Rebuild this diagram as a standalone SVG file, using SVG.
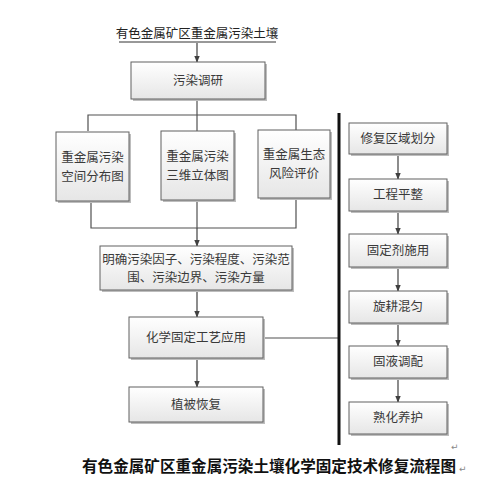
<svg xmlns="http://www.w3.org/2000/svg" width="484" height="487" viewBox="0 0 484 487">
<defs>
<linearGradient id="g" x1="0" y1="0" x2="0" y2="1">
<stop offset="0" stop-color="#ffffff"/>
<stop offset="1" stop-color="#e6e6e6"/>
</linearGradient>
<marker id="a" viewBox="0 0 10 10" refX="9" refY="5" markerWidth="7" markerHeight="7" orient="auto" markerUnits="userSpaceOnUse">
<path d="M0,1 L10,5 L0,9 Z" fill="#404040"/>
</marker>
<style>
.bx{fill:url(#g);stroke:#606060;stroke-width:1}
.sh{fill:#bdbdbd}
.t{font-family:"Noto Sans CJK SC","Liberation Sans",sans-serif;font-size:12.5px;fill:#3a3a3a;text-anchor:middle}
.c{fill:none;stroke:#505050;stroke-width:1.2}
.ar{fill:none;stroke:#404040;stroke-width:1.2;marker-end:url(#a)}
</style>
</defs>
<rect width="484" height="487" fill="#fff"/>

<g id="title">
<text class="t" x="197" y="38" style="fill:#222">有色金属矿区重金属污染土壤</text>
<line x1="119" y1="42" x2="276" y2="42" stroke="#333" stroke-width="1"/>
</g>

<g id="connectors">
<line class="ar" x1="197" y1="43" x2="197" y2="62"/>
<polyline class="c" points="197,99 197,115"/>
<polyline class="c" points="88,131 88,115 296,115 296,130"/>
<line class="c" x1="197" y1="115" x2="197" y2="131"/>
<polyline class="c" points="91,201 91,228 296,228 296,198"/>
<line class="c" x1="197" y1="200" x2="197" y2="228"/>
<line class="ar" x1="197" y1="228" x2="197" y2="246"/>
<line class="ar" x1="197" y1="290" x2="197" y2="317"/>
<line class="ar" x1="197" y1="358" x2="197" y2="387"/>
<line class="c" x1="263" y1="338" x2="339" y2="338"/>
<line x1="339" y1="113" x2="339" y2="445" stroke="#111" stroke-width="3"/>
<line class="ar" x1="398" y1="154" x2="398" y2="179"/>
<line class="ar" x1="398" y1="211" x2="398" y2="234"/>
<line class="ar" x1="398" y1="267" x2="398" y2="291"/>
<line class="ar" x1="398" y1="323" x2="398" y2="346"/>
<line class="ar" x1="398" y1="378" x2="398" y2="402"/>
</g>

<g id="n1"><rect class="sh" x="133" y="64" width="134" height="37"/><rect class="bx" x="131" y="62" width="134" height="37"/><text class="t" x="198" y="85">污染调研</text></g>

<g id="n2"><rect class="sh" x="58" y="134" width="73" height="69"/><rect class="bx" x="56" y="132" width="73" height="69"/><text class="t" x="92.5" y="162">重金属污染</text><text class="t" x="92.5" y="181">空间分布图</text></g>
<g id="n3"><rect class="sh" x="163" y="133" width="73" height="69"/><rect class="bx" x="161" y="131" width="73" height="69"/><text class="t" x="197.5" y="161">重金属污染</text><text class="t" x="197.5" y="180">三维立体图</text></g>
<g id="n4"><rect class="sh" x="260" y="132" width="72" height="68"/><rect class="bx" x="258" y="130" width="72" height="68"/><text class="t" x="294" y="159">重金属生态</text><text class="t" x="294" y="178">风险评价</text></g>

<g id="n5"><rect class="sh" x="102" y="248" width="192" height="44"/><rect class="bx" x="100" y="246" width="192" height="44"/><text class="t" x="196" y="264">明确污染因子、污染程度、污染范</text><text class="t" x="196" y="282">围、污染边界、污染方量</text></g>

<g id="n6"><rect class="sh" x="131" y="319" width="134" height="41"/><rect class="bx" x="129" y="317" width="134" height="41"/><text class="t" x="196" y="342">化学固定工艺应用</text></g>
<g id="n7"><rect class="sh" x="131" y="389" width="134" height="35"/><rect class="bx" x="129" y="387" width="134" height="35"/><text class="t" x="196" y="409">植被恢复</text></g>

<g id="r1"><rect class="sh" x="351" y="125" width="98" height="31"/><rect class="bx" x="349" y="123" width="98" height="31"/><text class="t" x="398" y="143">修复区域划分</text></g>
<g id="r2"><rect class="sh" x="351" y="181" width="98" height="32"/><rect class="bx" x="349" y="179" width="98" height="32"/><text class="t" x="398" y="199">工程平整</text></g>
<g id="r3"><rect class="sh" x="351" y="236" width="98" height="33"/><rect class="bx" x="349" y="234" width="98" height="33"/><text class="t" x="398" y="255">固定剂施用</text></g>
<g id="r4"><rect class="sh" x="351" y="293" width="98" height="32"/><rect class="bx" x="349" y="291" width="98" height="32"/><text class="t" x="398" y="311">旋耕混匀</text></g>
<g id="r5"><rect class="sh" x="351" y="348" width="98" height="32"/><rect class="bx" x="349" y="346" width="98" height="32"/><text class="t" x="398" y="366">固液调配</text></g>
<g id="r6"><rect class="sh" x="351" y="404" width="98" height="32"/><rect class="bx" x="349" y="402" width="98" height="32"/><text class="t" x="398" y="422">熟化养护</text></g>

<g id="caption">
<text x="82" y="472" textLength="374" lengthAdjust="spacingAndGlyphs" style="font-family:'Noto Sans CJK SC','Liberation Sans',sans-serif;font-size:15.5px;font-weight:600;fill:#111">有色金属矿区重金属污染土壤化学固定技术修复流程图</text>
<text x="459" y="472" style="font-family:'DejaVu Sans',sans-serif;font-size:9px;fill:#888">↵</text>
<text x="451" y="450" style="font-family:'DejaVu Sans',sans-serif;font-size:9px;fill:#888">↵</text>
</g>
</svg>
